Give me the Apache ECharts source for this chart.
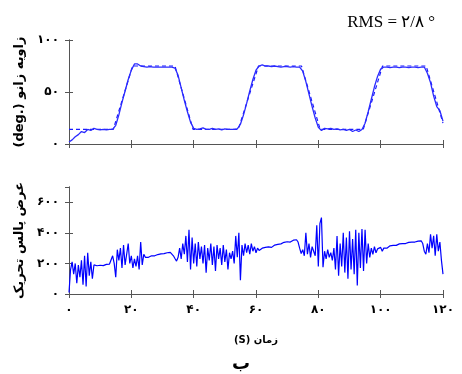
<!DOCTYPE html>
<html>
<head>
<meta charset="utf-8">
<script src="https://cdn.jsdelivr.net/npm/echarts@6/dist/echarts.min.js"></script>
<style>
html,body{margin:0;padding:0;background:#fff;}
#chart{width:462px;height:374px;}
</style>
</head>
<body>
<div id="chart"></div>
<script>
// ---- data ----
// top plot: measured knee angle (deg.), one sample per second, t = 0..120
const angleTimes = Array.from({length: 121}, (_, i) => i);
const angleActual = [
  2, 4, 7, 9, 12, 11, 14, 13, 15, 14,
  13.5, 14, 13.5, 14, 14, 18, 28, 40, 51, 62,
  71, 77, 77, 75, 74.5, 74, 74.5, 74, 74, 74,
  74, 74, 74, 74, 73, 66, 54, 42, 31, 21,
  15, 14, 14.5, 15.5, 14, 14, 15, 14, 14.5, 13.5,
  14.5, 14, 14, 14, 14.5, 19, 28, 39, 51, 62,
  71, 75, 76, 75, 75, 74.5, 75, 74.5, 74, 74.5,
  74.5, 74, 74.5, 74, 74, 70, 60, 48, 36, 25,
  16, 13, 15, 14.5, 15, 14, 14.5, 13.5, 14, 13,
  14, 12, 13.5, 12, 14, 20, 31, 43, 55, 65,
  72, 74, 74, 73.5, 74, 74, 73.5, 74, 74, 73.5,
  74, 74, 73.5, 74, 74, 68, 59, 46, 36, 32,
  22
];
// top plot: desired trajectory (dashed) breakpoints
const desiredTimes = [0, 14.2, 20.4, 34, 39.8, 54.3, 60.8, 74.6, 80.6, 94.4, 100.6, 114.6, 120];
const desiredValues = [14, 14, 75, 75, 14, 14, 75, 75, 14, 14, 75, 75, 20];

// bottom plot: stimulation pulse width, sampled every 0.5 s, t = 0..120
const pulseTimes = Array.from({length: 241}, (_, i) => i * 0.5);
const pulseValues = [
  // 0 .. 8
  10, 160, 210, 130, 200, 70, 190, 110, 220, 60, 250, 50, 270, 120, 210, 100, 190,
  // 8.5 .. 13.5
  180, 185, 190, 188, 192, 186, 190, 194, 190, 196, 200,
  // 14 .. 24
  250, 200, 110, 290, 220, 300, 170, 320, 190, 260, 330, 200, 250, 170, 230, 180, 250, 160, 340, 190, 260,
  // 24.5 .. 34.5
  240, 245, 240, 248, 250, 252, 250, 255, 258, 256, 262, 265, 264, 268, 270, 268, 272, 265, 250, 232, 215,
  // 35 .. 55
  240, 300, 230, 330, 260, 380, 210, 420, 160, 370, 200, 330, 180, 340, 230, 310, 200, 320, 140, 300,
  220, 330, 190, 310, 150, 320, 230, 300, 190, 320, 210, 290, 160, 270, 230, 280, 200, 380, 240, 400, 90,
  // 55.5 .. 61
  320, 250, 330, 270, 320, 260, 330, 280, 310, 270, 300, 285,
  // 61.5 .. 73
  295, 300, 292, 305, 300, 308, 312, 305, 315, 320, 318, 325, 330, 328, 335, 338, 335, 342, 345, 340, 350, 352, 348, 355,
  // 73.5 .. 81.5
  340, 300, 265, 290, 250, 400, 260, 330, 240, 310, 280, 250, 450, 180, 460, 500, 175,
  // 82 .. 85
  280, 230, 290, 240, 270, 220, 300,
  // 85.5 .. 96.5
  160, 380, 120, 330, 180, 400, 140, 370, 100, 410, 160, 360, 130, 420, 55, 400, 170, 425, 150, 420, 200, 330, 240,
  // 97 .. 98.5
  300, 260, 310, 270,
  // 99 .. 113
  295, 290, 305, 280, 300, 305, 300, 310, 315, 312, 318, 320, 318, 325, 328, 326, 330, 333, 330, 335,
  338, 336, 340, 342, 340, 345, 346, 343, 348,
  // 113.5 .. 120
  330, 280, 260, 330, 270, 390, 300, 380, 250, 390, 280, 340, 220, 130
];

const xTicks = [0, 20, 40, 60, 80, 100, 120];
const xTickLabels = ['۰', '۲۰', '۴۰', '۶۰', '۸۰', '۱۰۰', '۱۲۰'];
const yTopTicks = [0, 50, 100];
const yTopTickLabels = ['۰', '۵۰', '۱۰۰'];
const yBotTicks = [0, 200, 400, 600];
const yBotTickLabels = ['۰', '۲۰۰', '۴۰۰', '۶۰۰'];

const rmsText = 'RMS = ۲/۸ °';
const topYName = '(deg.) زاویه زانو';
const botYName = 'عرض پالس تحریک';
const xName = '(S) زمان';
const captionText = 'ب';

// ---- chart ----
function labelFrom(ticks, labels) {
  return v => { const i = ticks.indexOf(v); return i >= 0 ? labels[i] : ''; };
}
const frameColor = '#555';
const labelFont = { fontFamily: 'DejaVu Sans', fontWeight: 'bold', fontSize: 12, color: '#000' };

function xAx(grid, pos, showLabels) {
  return {
    type: 'value', gridIndex: grid, position: pos, min: 0, max: 120, interval: 20,
    axisLine: { show: true, lineStyle: { color: frameColor, width: 1 } },
    axisTick: { show: true, inside: true, length: 4, lineStyle: { color: frameColor } },
    axisLabel: Object.assign({ show: showLabels, margin: 10, formatter: labelFrom(xTicks, xTickLabels) }, labelFont),
    splitLine: { show: false }
  };
}
function yAx(grid, pos, max, interval, ticks, labels, showLabels) {
  return {
    type: 'value', gridIndex: grid, position: pos, min: 0, max: max, interval: interval,
    axisLine: { show: true, lineStyle: { color: frameColor, width: 1 } },
    axisTick: { show: true, inside: true, length: 4, lineStyle: { color: frameColor } },
    axisLabel: Object.assign({ show: showLabels, margin: 10, showMaxLabel: max % interval === 0, formatter: labelFrom(ticks, labels) }, labelFont),
    splitLine: { show: false }
  };
}

const xAxes = [xAx(0, 'bottom', false), xAx(0, 'top', false), xAx(1, 'bottom', true), xAx(1, 'top', false)];
xAxes[2].name = xName;
xAxes[2].nameLocation = 'middle';
xAxes[2].nameGap = 41;
xAxes[2].nameTextStyle = { fontFamily: 'DejaVu Sans', fontWeight: 'bold', fontSize: 10, color: '#000' };

const yAxes = [
  yAx(0, 'left', 100, 50, yTopTicks, yTopTickLabels, true),
  yAx(0, 'right', 100, 50, yTopTicks, yTopTickLabels, false),
  yAx(1, 'left', 700, 200, yBotTicks, yBotTickLabels, true),
  yAx(1, 'right', 700, 200, yBotTicks, yBotTickLabels, false)
];
yAxes[0].name = topYName;
yAxes[2].name = botYName;
[0, 2].forEach(i => {
  yAxes[i].nameLocation = 'middle';
  yAxes[i].nameRotate = 90;
  yAxes[i].nameGap = 43;
  yAxes[i].nameTextStyle = { fontFamily: 'DejaVu Sans', fontWeight: 'bold', fontSize: 13, color: '#000' };
});

const chart = echarts.init(document.getElementById('chart'), null, { renderer: 'canvas' });
chart.setOption({
  animation: false,
  backgroundColor: '#fff',
  title: [
    { text: rmsText, right: 22, top: 9, textStyle: { fontFamily: 'Liberation Serif', fontWeight: 'normal', fontSize: 17, color: '#000' } },
    { text: captionText, left: 227, top: 350, textStyle: { fontFamily: 'DejaVu Sans', fontWeight: 'bold', fontSize: 18, color: '#000' } }
  ],
  grid: [
    { left: 69, top: 40, width: 374, height: 104 },
    { left: 69, top: 187, width: 374, height: 107 }
  ],
  xAxis: xAxes,
  yAxis: yAxes,
  series: [
    {
      type: 'line', xAxisIndex: 0, yAxisIndex: 0, showSymbol: false, z: 2,
      data: desiredTimes.map((t, i) => [t, desiredValues[i]]),
      lineStyle: { color: '#1a1aff', width: 1.2, type: [4, 3] }
    },
    {
      type: 'line', xAxisIndex: 0, yAxisIndex: 0, showSymbol: false, z: 3,
      data: angleTimes.map((t, i) => [t, angleActual[i]]),
      lineStyle: { color: '#2a2aff', width: 1.3 }
    },
    {
      type: 'line', xAxisIndex: 2, yAxisIndex: 2, showSymbol: false,
      data: pulseTimes.map((t, i) => [t, pulseValues[i]]),
      lineStyle: { color: '#0000ff', width: 1.2 }
    }
  ]
});
</script>
</body>
</html>
